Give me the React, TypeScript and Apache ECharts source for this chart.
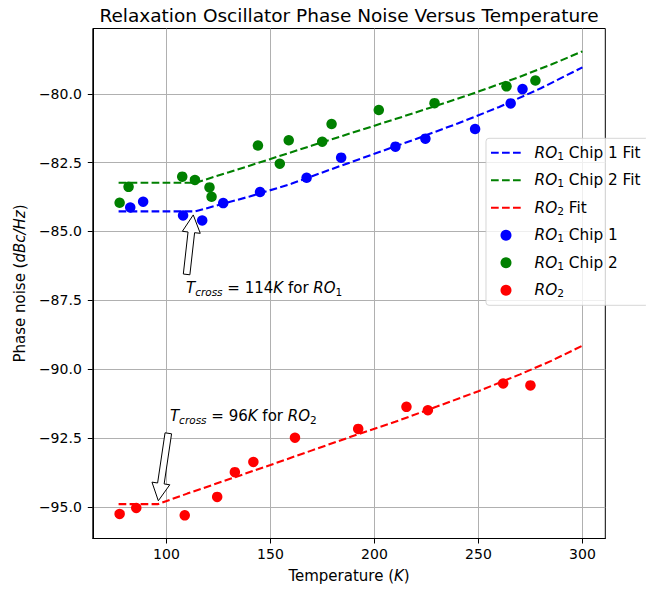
import { useEffect, useRef } from "react";
import * as echarts from "echarts";

const FONT = "DejaVu Sans";

// Axis ticks
const xTickValues = [100, 150, 200, 250, 300];
const yTickValues = [-95, -92.5, -90, -87.5, -85, -82.5, -80];

// Measured phase noise, RO1 chip 1
const chip1Temps = [82.6, 88.8, 108.0, 117.2, 127.3, 145.0, 167.4, 184.0, 210.1, 224.5, 248.4, 265.5, 271.2];
const chip1Noise = [-84.13, -83.92, -84.42, -84.6, -83.97, -83.57, -83.05, -82.32, -81.92, -81.63, -81.28, -80.35, -79.83];

// Measured phase noise, RO1 chip 2
const chip2Temps = [77.5, 81.8, 107.6, 113.7, 120.7, 121.7, 144.0, 154.5, 158.8, 174.9, 179.4, 202.1, 228.9, 263.5, 277.4];
const chip2Noise = [-83.96, -83.38, -83.01, -83.13, -83.4, -83.74, -81.88, -82.54, -81.69, -81.74, -81.1, -80.59, -80.34, -79.73, -79.52];

// Measured phase noise, RO2
const ro2Temps = [77.5, 85.5, 108.8, 124.4, 132.9, 141.8, 161.8, 192.2, 215.4, 225.7, 261.9, 275.0];
const ro2Noise = [-95.26, -95.04, -95.31, -94.64, -93.74, -93.37, -92.49, -92.17, -91.37, -91.49, -90.52, -90.59];

// Fitted curves (flat below T_cross)
const chip1FitTemps = [77, 114, 125, 140, 160, 180, 200, 220, 240, 260, 280, 300];
const chip1FitNoise = [-84.27, -84.27, -84.04, -83.73, -83.27, -82.72, -82.18, -81.64, -81.08, -80.48, -79.8, -79.04];

const chip2FitTemps = [77, 114, 130, 150, 170, 190, 210, 230, 250, 270, 285, 300];
const chip2FitNoise = [-83.23, -83.23, -82.85, -82.37, -81.88, -81.4, -80.92, -80.43, -79.92, -79.38, -78.94, -78.46];

const ro2FitTemps = [77, 96, 110, 130, 150, 170, 190, 210, 230, 250, 270, 285, 300];
const ro2FitNoise = [-94.9, -94.9, -94.52, -94.0, -93.48, -92.95, -92.42, -91.91, -91.36, -90.8, -90.19, -89.7, -89.15];

// Annotations: arrow tail/tip and label anchor in data units
const ro1ArrowTail = [109.7, -86.56];
const ro1ArrowTip = [112.9, -84.4];
const ro1LabelAt = [109.4, -87.07];
const ro1LabelText = "{it|T}{sub|cross}{n| = 114}{it|K}{n| for }{it|RO}{subn|1}";

const ro2ArrowTail = [100.9, -92.33];
const ro2ArrowTip = [96.1, -94.78];
const ro2LabelAt = [101.7, -91.71];
const ro2LabelText = "{it|T}{sub|cross}{n| = 96}{it|K}{n| for }{it|RO}{subn|2}";

const TITLE = "Relaxation Oscillator Phase Noise Versus Temperature";

const W = 646;
const H = 591;
const GRID = { left: 92.8, top: 28.5, right: 40.7, bottom: 52.5 };

const zip = (a: number[], b: number[]) => a.map((v, i) => [v, b[i]]);

function mathRich(size: number, subSize: number, lineHeight: number, leadPad = 0) {
  return {
    n: { fontFamily: FONT, fontSize: size, color: "#000", lineHeight },
    it: { fontFamily: FONT, fontSize: size, fontStyle: "italic", color: "#000", lineHeight },
    itp: {
      fontFamily: FONT,
      fontSize: size,
      fontStyle: "italic",
      color: "#000",
      lineHeight,
      padding: [0, 0, 0, leadPad],
    },
    sub: { fontFamily: FONT, fontSize: subSize, fontStyle: "italic", color: "#000", lineHeight: subSize, verticalAlign: "bottom" },
    subn: { fontFamily: FONT, fontSize: subSize, color: "#000", lineHeight: subSize, verticalAlign: "bottom" },
  };
}

const axisNameRich = mathRich(15, 10.5, 18);
const legendRich = mathRich(15.3, 10.7, 18, 8.5);
const noteRich = mathRich(15, 10.5, 19);

const BLUE = "#0000ff";
const GREEN = "#008000";
const RED = "#ff0000";
const DASH = [7.7, 3.3];

function fitSeries(name: string, color: string, data: number[][]) {
  return {
    name,
    type: "line",
    data,
    symbol: "none",
    showSymbol: false,
    z: 3,
    color,
    lineStyle: { color, width: 2.1, type: DASH },
    silent: true,
  };
}

function pointSeries(name: string, color: string, data: number[][]) {
  return {
    name,
    type: "scatter",
    data,
    symbol: "circle",
    symbolSize: 10.5,
    z: 2,
    color,
    itemStyle: { color, opacity: 1 },
    silent: true,
  };
}

function arrowPoints(tail: number[], tip: number[]) {
  const dx = tip[0] - tail[0];
  const dy = tip[1] - tail[1];
  const len = Math.hypot(dx, dy);
  const ux = dx / len;
  const uy = dy / len;
  const nx = -uy;
  const ny = ux;
  const shaft = 3.3;
  const head = 9;
  const headLen = 17.5;
  const bx = tip[0] - ux * headLen;
  const by = tip[1] - uy * headLen;
  return [
    [tail[0] + nx * shaft, tail[1] + ny * shaft],
    [bx + nx * shaft, by + ny * shaft],
    [bx + nx * head, by + ny * head],
    [tip[0], tip[1]],
    [bx - nx * head, by - ny * head],
    [bx - nx * shaft, by - ny * shaft],
    [tail[0] - nx * shaft, tail[1] - ny * shaft],
  ];
}

const legendNames: Record<string, string> = {
  "RO1 Chip 1 Fit": "{itp|RO}{subn|1}{n| Chip 1 Fit}",
  "RO1 Chip 2 Fit": "{itp|RO}{subn|1}{n| Chip 2 Fit}",
  "RO2 Fit": "{itp|RO}{subn|2}{n| Fit}",
  "RO1 Chip 1": "{itp|RO}{subn|1}{n| Chip 1}",
  "RO1 Chip 2": "{itp|RO}{subn|1}{n| Chip 2}",
  RO2: "{itp|RO}{subn|2}",
};

// Fit entries show only the dashed stroke, no marker
const lineOnlyEntry = (name: string) => ({ name, itemStyle: { opacity: 0 } });

export default function App() {
  const ref = useRef<HTMLDivElement>(null);

  useEffect(() => {
    const el = ref.current;
    if (!el) return;
    const chart = echarts.init(el, null, { renderer: "svg" });

    const axisCommon = {
      type: "value",
      axisLine: { show: true, onZero: false, lineStyle: { color: "#000", width: 1 } },
      axisTick: { show: true, length: 5, lineStyle: { color: "#000", width: 1 } },
      splitLine: { show: true, lineStyle: { color: "#b0b0b0", width: 1 } },
      nameLocation: "middle",
    };

    chart.setOption({
      animation: false,
      backgroundColor: "#fff",
      grid: {
        ...GRID,
        show: true,
        borderColor: "#000",
        borderWidth: 1,
        backgroundColor: "transparent",
      },
      xAxis: {
        ...axisCommon,
        min: 64.6,
        max: 311,
        axisTick: { ...axisCommon.axisTick, customValues: xTickValues },
        axisLabel: {
          customValues: xTickValues,
          fontFamily: FONT,
          fontSize: 14,
          color: "#000",
          margin: 8,
        },
        name: "{n|Temperature (}{it|K}{n|)}",
        nameGap: 28,
        nameTextStyle: { rich: axisNameRich, fontFamily: FONT, fontSize: 15, color: "#000" },
      },
      yAxis: {
        ...axisCommon,
        min: -96.15,
        max: -77.63,
        axisTick: { ...axisCommon.axisTick, customValues: yTickValues },
        axisLabel: {
          customValues: yTickValues,
          fontFamily: FONT,
          fontSize: 14,
          color: "#000",
          margin: 11,
          formatter: (v: number) => v.toFixed(1).replace("-", "\u2212"),
        },
        name: "{n|Phase noise (}{it|dBc/Hz}{n|)}",
        nameGap: 60,
        nameTextStyle: { rich: axisNameRich, fontFamily: FONT, fontSize: 15, color: "#000" },
      },
      legend: {
        orient: "vertical",
        left: 486,
        top: 138.3,
        itemWidth: 30,
        itemHeight: 11,
        itemGap: 11,
        padding: [7, 8, 6, 4],
        backgroundColor: "rgba(255,255,255,0.8)",
        borderColor: "rgba(204,204,204,0.8)",
        borderWidth: 1,
        borderRadius: 3,
        selectedMode: false,
        z: 10,
        formatter: (name: string) => legendNames[name] ?? name,
        textStyle: { fontFamily: FONT, fontSize: 15.3, color: "#000", rich: legendRich },
        data: [
          lineOnlyEntry("RO1 Chip 1 Fit"),
          lineOnlyEntry("RO1 Chip 2 Fit"),
          lineOnlyEntry("RO2 Fit"),
          "RO1 Chip 1",
          "RO1 Chip 2",
          "RO2",
        ],
      },
      series: [
        fitSeries("RO1 Chip 1 Fit", BLUE, zip(chip1FitTemps, chip1FitNoise)),
        fitSeries("RO1 Chip 2 Fit", GREEN, zip(chip2FitTemps, chip2FitNoise)),
        fitSeries("RO2 Fit", RED, zip(ro2FitTemps, ro2FitNoise)),
        pointSeries("RO1 Chip 1", BLUE, zip(chip1Temps, chip1Noise)),
        pointSeries("RO1 Chip 2", GREEN, zip(chip2Temps, chip2Noise)),
        pointSeries("RO2", RED, zip(ro2Temps, ro2Noise)),
      ],
    });

    const toPx = (p: number[]) => chart.convertToPixel({ gridIndex: 0 }, p) as number[];
    const plotCenterX = GRID.left + (W - GRID.left - GRID.right) / 2;

    const arrow = (tail: number[], tip: number[]) => ({
      type: "polygon",
      z: 20,
      shape: { points: arrowPoints(toPx(tail), toPx(tip)) },
      style: { fill: "#fff", stroke: "#000", lineWidth: 1 },
      silent: true,
    });
    const label = (at: number[], text: string) => {
      const p = toPx(at);
      return {
        type: "text",
        z: 20,
        x: p[0],
        y: p[1],
        silent: true,
        style: { text, rich: noteRich, align: "left", verticalAlign: "middle", fontFamily: FONT, fontSize: 15 },
      };
    };

    chart.setOption({
      graphic: [
        {
          type: "text",
          x: plotCenterX,
          y: 15,
          silent: true,
          style: {
            text: TITLE,
            fontFamily: FONT,
            fontSize: 18.5,
            fill: "#000",
            align: "center",
            verticalAlign: "middle",
          },
        },
        arrow(ro1ArrowTail, ro1ArrowTip),
        label(ro1LabelAt, ro1LabelText),
        arrow(ro2ArrowTail, ro2ArrowTip),
        label(ro2LabelAt, ro2LabelText),
      ],
    });

    return () => chart.dispose();
  }, []);

  return (
    <div
      ref={ref}
      style={{ position: "fixed", left: 0, top: 0, width: W, height: H, background: "#fff" }}
    />
  );
}
